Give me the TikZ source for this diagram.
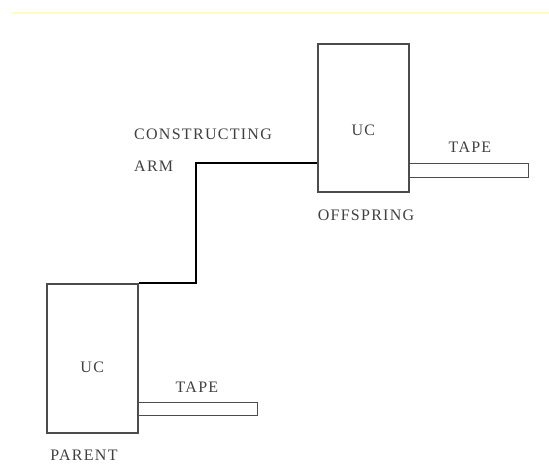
\documentclass[tikz,border=0pt]{standalone}
\usepackage{fontspec}
\setmainfont{Liberation Serif}[LetterSpace=8]
\begin{document}
\begin{tikzpicture}[x=1pt,y=-1pt,
  ucbox/.style={draw=black!70,line width=1.5pt,inner sep=0pt,anchor=north west},
  tapebox/.style={draw=black!70,line width=1.3pt,inner sep=0pt,anchor=north west},
  lbl/.style={font=\fontsize{16}{18}\selectfont,text=black!75,inner sep=0pt},
  arm/.style={draw=black,line width=2.8pt,line join=miter}]
\useasboundingbox (0,0) rectangle (549,467);
\draw[yellow!25,line width=2pt] (12,13) -- (549,13);
% boxes
\node[ucbox,minimum width=91pt,minimum height=148pt] (off) at (317,43) {};
\node[ucbox,minimum width=91pt,minimum height=149pt] (par) at (46,283) {};
\node[tapebox,minimum width=120pt,minimum height=14pt] (tapeo) at (408,163) {};
\node[tapebox,minimum width=120pt,minimum height=13pt] (tapep) at (137,402) {};
% arm
\coordinate (a1) at (196,163);
\coordinate (a2) at (196,283);
\draw[arm] (off.west |- a1) -- (a1) -- (a2) -- (par.north east);
% labels
\node[lbl] (uco) at (off.center |- 0,130) {UC};
\node[lbl] (ucp) at (par.center |- 0,367) {UC};
\node[lbl,anchor=west] (cons) at (134,134) {CONSTRUCTING};
\node[lbl,anchor=west] (armt) at (134,166) {ARM};
\node[lbl] (offt) at (366,215) {OFFSPRING};
\node[lbl] (tpo) at (470,147) {TAPE};
\node[lbl] (tpp) at (197,387) {TAPE};
\node[lbl] (part) at (84,455) {PARENT};
\end{tikzpicture}
\end{document}
